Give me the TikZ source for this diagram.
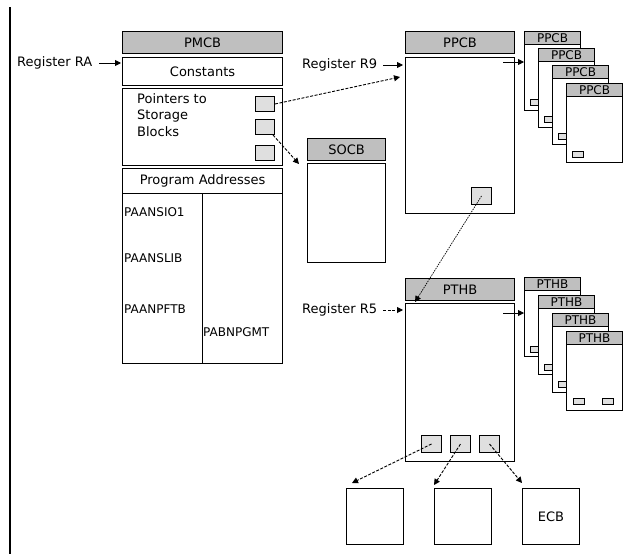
\documentclass[tikz,border=0pt]{standalone}
\usepackage{fontspec}
\setmainfont{DejaVu Sans}
\usetikzlibrary{arrows.meta,positioning}

\tikzset{
  blk/.style={draw, line width=1.1pt, fill=white, inner sep=0pt, anchor=north west},
  hdr/.style={blk, fill=gray!50},
  mini/.style={hdr, font=\fontsize{12}{12}\selectfont, minimum width=56pt, minimum height=13pt},
  minibody/.style={blk, minimum width=56pt, minimum height=66pt},
  slot/.style={draw, line width=1pt, fill=gray!25, inner sep=0pt, anchor=north west, minimum width=19pt, minimum height=15pt},
  tinyslot/.style={slot, minimum width=11pt, minimum height=6pt},
  lbl/.style={inner sep=1pt, anchor=west},
  arr/.style={-{Triangle[length=6pt,width=6pt]}, line width=0.9pt},
  dasharr/.style={arr, dash pattern=on 3pt off 1.5pt},
  dotarr/.style={arr, line width=0.7pt, dash pattern=on 1.5pt off 1pt},
}

\begin{document}
\begin{tikzpicture}[x=1pt, y=-1pt, font=\fontsize{13}{16.5}\selectfont]
\useasboundingbox (0,0) rectangle (629,554);
\draw[line width=1.1pt] (10,7) -- (10,554);

% PMCB
\node[hdr, minimum width=160pt, minimum height=22pt] (pmcb) at (122,31) {PMCB};
\node[blk, minimum width=160pt, minimum height=28pt] (const) at (122,57) {Constants};
\node[blk, minimum width=160pt, minimum height=77pt] (ptrs) at (122,88) {};
\node[align=left, anchor=north west, inner sep=0pt] (ptrtxt) at (137,93) {Pointers to\\Storage\\Blocks};
\node[slot] (ps1) at (255,96) {};
\node[slot] (ps2) at (255,119) {};
\node[slot] (ps3) at (255,145) {};
\node[blk, minimum width=160pt, minimum height=25pt] (progaddr) at (122,168) {Program Addresses};
\node[blk, minimum width=80pt, minimum height=170pt] (pleft) at (122,193) {};
\node[blk, minimum width=80pt, minimum height=170pt] (pright) at (202,193) {};
\node[lbl, font=\fontsize{12}{12}\selectfont] (paansio) at (123,212) {PAANSIO1};
\node[lbl, font=\fontsize{12}{12}\selectfont] (paanslib) at (123,258) {PAANSLIB};
\node[lbl, font=\fontsize{12}{12}\selectfont] (paanpftb) at (123,309) {PAANPFTB};
\node[lbl, font=\fontsize{12}{12}\selectfont] (pabnpgmt) at (202,332) {PABNPGMT};

\node[lbl] (regra) at (16,63) {Register RA};
\draw[arr] (regra.east) ++(6,0) coordinate (raout) -- ([xshift=-1pt]raout -| const.west);

% SOCB
\node[hdr, minimum width=78pt, minimum height=22pt] (socb) at (307,138) {SOCB};
\node[blk, minimum width=78pt, minimum height=99pt] (socbbody) at (307,163) {};

% PPCB
\node[hdr, minimum width=109pt, minimum height=22pt] (ppcb) at (405,31) {PPCB};
\node[blk, minimum width=109pt, minimum height=156pt] (ppcbbody) at (405,57) {};
\node[slot, minimum width=20pt, minimum height=17pt] (pps) at (471,187) {};
\node[lbl] (regr9) at (301,65) {Register R9};
\draw[arr] (regr9.east) ++(5,0) coordinate (r9out) -- ([xshift=-2pt]r9out -| ppcbbody.west);

% PPCB stack
\node[mini] (pc1) at (524,31) {PPCB};
\node[minibody] (pc1b) at (524,44) {};
\node[tinyslot] at (530,99) {};
\node[mini] (pc2) at (538,48) {PPCB};
\node[minibody] (pc2b) at (538,61) {};
\node[tinyslot] at (544,116) {};
\node[mini] (pc3) at (552,65) {PPCB};
\node[minibody] (pc3b) at (552,78) {};
\node[tinyslot] at (558,133) {};
\node[mini] (pc4) at (566,83) {PPCB};
\node[minibody] (pc4b) at (566,96) {};
\node[tinyslot] at (572,151) {};
\coordinate (ppcbout) at (503,62);
\draw[arr] (ppcbout) -- (ppcbout -| pc1b.west);

% PTHB
\node[hdr, minimum width=109pt, minimum height=22pt] (pthb) at (405,278) {PTHB};
\node[blk, minimum width=109pt, minimum height=158pt] (pthbbody) at (405,303) {};
\node[slot, minimum width=20pt, minimum height=17pt] (pts1) at (421,435) {};
\node[slot, minimum width=20pt, minimum height=17pt] (pts2) at (450,435) {};
\node[slot, minimum width=20pt, minimum height=17pt] (pts3) at (479,435) {};
\node[lbl] (regr5) at (301,310) {Register R5};
\draw[dasharr] (regr5.east) ++(5,0) coordinate (r5out) -- ([xshift=-2pt]r5out -| pthbbody.west);

% PTHB stack
\node[mini] (pt1) at (524,277) {PTHB};
\node[minibody] (pt1b) at (524,290) {};
\node[tinyslot] at (530,346) {};
\node[tinyslot] at (559,346) {};
\node[mini] (pt2) at (538,295) {PTHB};
\node[minibody] (pt2b) at (538,308) {};
\node[tinyslot] at (544,364) {};
\node[tinyslot] at (573,364) {};
\node[mini] (pt3) at (552,313) {PTHB};
\node[minibody] (pt3b) at (552,326) {};
\node[tinyslot] at (558,381) {};
\node[tinyslot] at (587,381) {};
\node[mini] (pt4) at (566,331) {PTHB};
\node[minibody] (pt4b) at (566,344) {};
\node[tinyslot] at (573,398) {};
\node[tinyslot] at (602,398) {};
\coordinate (pthbout) at (503,313);
\draw[arr] (pthbout) -- (pthbout -| pt1b.west);

% bottom blocks
\node[blk, minimum width=57pt, minimum height=56pt] (sb1) at (346,488) {};
\node[blk, minimum width=57pt, minimum height=56pt] (sb2) at (434,488) {};
\node[blk, minimum width=57pt, minimum height=56pt] (ecb) at (522,488) {ECB};

% pointers
\draw[dasharr] (ps1.east) -- ([xshift=-5pt,yshift=-20pt]ppcbbody.north west);
\draw[dasharr] ([xshift=-2pt]ps2.south east) -- ([xshift=-8pt,yshift=-1pt]socbbody.north west);
\draw[dotarr] (pps.center) -- ([xshift=10pt,yshift=1pt]pthbbody.north west);
\draw[dasharr] (pts1.center) -- ([xshift=6pt,yshift=5pt]sb1.north west);
\draw[dasharr] (pts2.center) -- ([yshift=3pt]sb2.north west);
\draw[dasharr] (pts3.center) -- ([yshift=5pt]ecb.north west);
\end{tikzpicture}
\end{document}
